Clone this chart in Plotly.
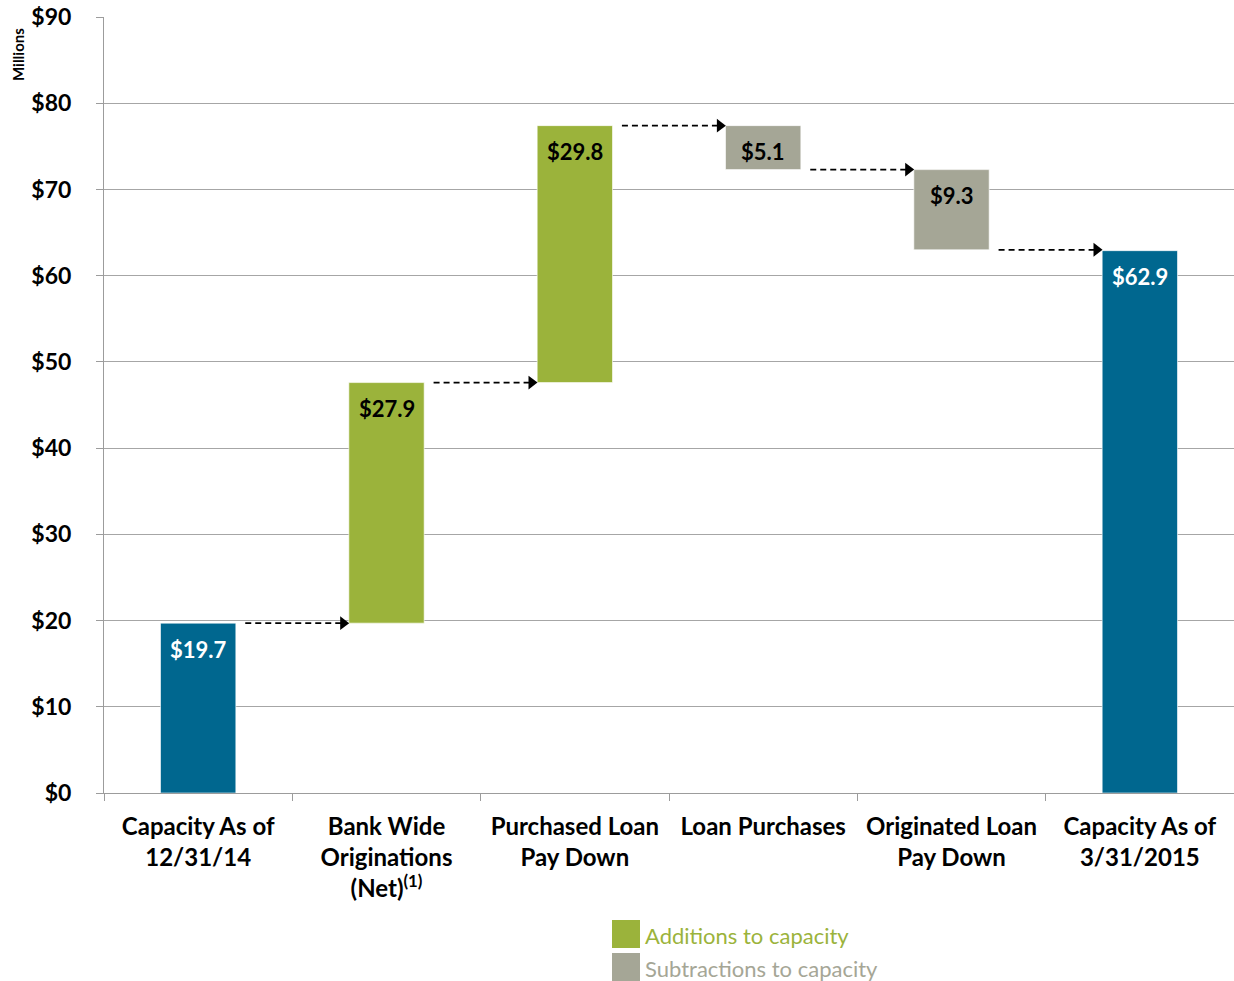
import plotly.graph_objects as go

categories = ["Capacity As of<br>12/31/14", "Bank Wide<br>Originations<br>(Net)<sup>(1)</sup>",
              "Purchased Loan<br>Pay Down", "Loan Purchases", "Originated Loan<br>Pay Down",
              "Capacity As of<br>3/31/2015"]
start_value = 19.7
changes = [27.9, 29.8, -5.1, -9.3]
end_value = 62.9
labels = ["$19.7", "$27.9", "$29.8", "$5.1", "$9.3", "$62.9"]
y_ticks = [0, 10, 20, 30, 40, 50, 60, 70, 80, 90]

BLUE = "#00678F"
GREEN = "#9BB33B"
GRAY = "#A5A696"
FONT = "Lato"

W, H = 1234, 981
L, T = 104, 17
B = H - 793

running = [start_value]
for c in changes:
    running.append(round(running[-1] + c, 1))

bases, heights, colors = [], [], []
bases.append(0); heights.append(start_value); colors.append(BLUE)
for i, c in enumerate(changes):
    lo = min(running[i], running[i + 1])
    bases.append(lo); heights.append(abs(c)); colors.append(GREEN if c > 0 else GRAY)
bases.append(0); heights.append(end_value); colors.append(BLUE)
tops = [b + h for b, h in zip(bases, heights)]
text_colors = ["white" if c == BLUE else "black" for c in colors]

fig = go.Figure()
fig.add_trace(go.Bar(
    x=categories, y=heights, base=bases, width=0.4,
    marker=dict(color=colors, line=dict(color="rgba(255,255,255,0.6)", width=1)),
    showlegend=False, hoverinfo="skip"))

for i, lvl in enumerate(running):
    x0 = i + 0.25
    x1 = i + 0.77
    fig.add_trace(go.Scatter(
        x=[x0, x1], y=[lvl, lvl], xaxis="x2", mode="lines",
        line=dict(color="black", width=1.8, dash="6px,4px"),
        showlegend=False, hoverinfo="skip"))
    fig.add_trace(go.Scatter(
        x=[x1], y=[lvl], xaxis="x2", mode="markers",
        marker=dict(symbol="triangle-right", size=12, color="black"),
        showlegend=False, hoverinfo="skip"))

for i, (t, lab, tc) in enumerate(zip(tops, labels, text_colors)):
    fig.add_annotation(x=i, y=t, xref="x2", yref="y", text="<b>" + lab + "</b>",
                       showarrow=False, yanchor="middle", yshift=-26,
                       font=dict(family=FONT, size=22, color=tc))

legend_items = [("Additions to capacity", GREEN), ("Subtractions to capacity", GRAY)]
plot_w = W - L
plot_h = H - T - B
px_to_x = lambda px: (px - L) / plot_w
px_to_y = lambda py: (793 - py) / plot_h
for k, (name, col) in enumerate(legend_items):
    top = 920 + 33 * k
    fig.add_shape(type="rect", xref="paper", yref="paper",
                  x0=px_to_x(612), x1=px_to_x(640), y0=px_to_y(top + 28), y1=px_to_y(top),
                  fillcolor=col, line=dict(width=0))
    fig.add_annotation(xref="paper", yref="paper", x=px_to_x(643), y=px_to_y(top + 15),
                       text=name, showarrow=False, xanchor="left", yanchor="middle",
                       font=dict(family=FONT, size=22, color=col))

fig.add_annotation(xref="paper", yref="paper", x=px_to_x(18), y=px_to_y(55),
                   text="<b>Millions</b>", textangle=-90, showarrow=False,
                   xanchor="center", yanchor="middle",
                   font=dict(family=FONT, size=15, color="black"))

fig.update_layout(
    width=W, height=H,
    margin=dict(l=L, r=0, t=T, b=B, pad=0),
    plot_bgcolor="white", paper_bgcolor="white",
    font=dict(family=FONT, color="black"),
    xaxis=dict(type="category", tickson="boundaries", ticks="outside", ticklen=7,
               tickcolor="#9C9C9C", showline=True, linecolor="#9C9C9C", linewidth=1,
               showgrid=False, range=[-0.5, 5.5], ticklabelstandoff=12,
               tickfont=dict(family=FONT, size=24, color="black", weight="bold")),
    xaxis2=dict(overlaying="x", range=[-0.5, 5.5], visible=False, showgrid=False),
    yaxis=dict(range=[0, 90], tickvals=y_ticks, ticktext=["<b>$%d</b>" % v for v in y_ticks],
               ticks="outside", ticklen=7, tickcolor="#9C9C9C",
               showline=True, linecolor="#9C9C9C", linewidth=1,
               gridcolor="#A6A6A6", gridwidth=1, zeroline=False,
               ticklabelstandoff=20, ticklabeloverflow="allow",
               tickfont=dict(family=FONT, size=23, color="black")),
)

fig.write_html("out.html", config={"displayModeBar": False},
               post_script="document.body.style.margin='0';document.body.style.overflow='hidden';")
